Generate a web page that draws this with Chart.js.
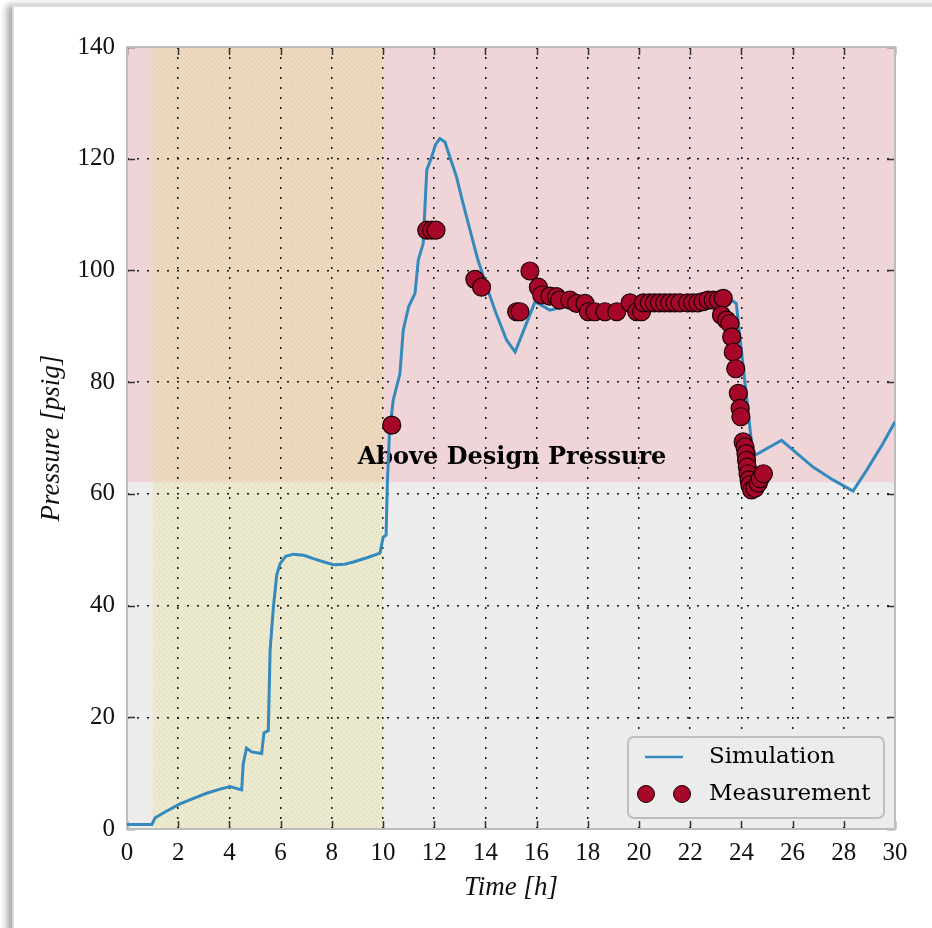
<!DOCTYPE html>
<html>
<head>
<meta charset="utf-8">
<script src="https://cdn.jsdelivr.net/npm/chart.js@4.4.1/dist/chart.umd.min.js"></script>
<style>
  html, body { margin: 0; padding: 0; background: #ffffff; }
  #frame {
    position: absolute; left: 12px; top: 5px; width: 930px; height: 940px;
    border: 2px solid #dcdcdc; box-shadow: -5px 0 7px rgba(0,0,0,0.35);
    background: #ffffff;
  }
  #wrap { position: absolute; left: 0; top: 0; width: 932px; height: 928px; }
</style>
</head>
<body>
<div id="frame"></div>
<div id="wrap"><canvas id="pressureChart" width="932" height="928"></canvas></div>
<script>
// simulated pressure curve
const simTime = [0, 0.97, 1.1, 1.5, 2.07, 2.6, 3.11, 3.6, 4.02, 4.48, 4.54, 4.67, 4.87, 5.26, 5.35, 5.52,
  5.59, 5.72, 5.85, 5.98, 6.2, 6.5, 6.9, 7.28, 7.7, 8.06, 8.5, 8.84, 9.4, 9.88, 10.01, 10.12, 10.17,
  10.25, 10.4, 10.66, 10.79, 11.0, 11.25, 11.38, 11.57, 11.71, 11.9, 12.05, 12.22, 12.42, 12.6, 12.87,
  13.1, 13.4, 13.7, 14.05, 14.4, 14.83, 15.16, 15.55, 15.94, 16.52, 17.04, 18, 19, 20, 21, 22, 23.0,
  23.6, 23.8, 24.0, 24.2, 24.4, 24.53, 25.57, 26.03, 26.8, 27.58, 28.36, 28.9, 29.5, 30];
const simPressure = [0.8, 0.8, 2.0, 3.1, 4.5, 5.5, 6.4, 7.1, 7.6, 7.0, 11.7, 14.5, 13.8, 13.5, 17.2, 17.6,
  32, 39.8, 45.5, 47.5, 48.8, 49.2, 49.0, 48.4, 47.8, 47.3, 47.4, 47.8, 48.6, 49.4, 52.3, 52.6, 61.9,
  70.8, 76.8, 81.5, 89.3, 93.5, 95.9, 101.9, 104.8, 118, 120.3, 122.5, 123.6, 123, 120.5, 116.8,
  112.5, 107.2, 102, 97.1, 92.5, 87.5, 85.4, 89.9, 94.4, 92.9, 93.5, 93.4, 93.6, 94, 94.2, 94.4, 94.6,
  94.7, 94.1, 85.7, 77.4, 69.0, 66.9, 69.6, 67.8, 64.8, 62.5, 60.5, 64.3, 68.8, 72.9];

// field measurements
const measTime = [10.34, 11.71, 11.9, 12.07, 13.59, 13.85, 15.22, 15.35, 15.74, 16.07, 16.2, 16.52, 16.78,
  16.9, 17.3, 17.56, 17.89, 18.02, 18.28, 18.67, 19.13, 19.65, 19.91, 20.1, 20.17, 20.4, 20.6, 20.8,
  21.0, 21.2, 21.4, 21.6, 21.9, 22.1, 22.3, 22.5, 22.7, 22.9, 23.1, 23.29, 23.22, 23.42, 23.55, 23.62,
  23.68, 23.78, 23.88, 23.95, 23.98, 24.07, 24.14, 24.18, 24.2, 24.23, 24.26, 24.3, 24.33, 24.4, 24.53,
  24.66, 24.73, 24.86];
const measPressure = [72.3, 107.2, 107.2, 107.2, 98.4, 97.0, 92.6, 92.6, 99.9, 97.0, 95.6, 95.4, 95.3,
  94.7, 94.7, 94.1, 94.1, 92.6, 92.6, 92.6, 92.6, 94.2, 92.6, 92.6, 94.2, 94.2, 94.2, 94.2,
  94.2, 94.2, 94.2, 94.2, 94.2, 94.2, 94.2, 94.4, 94.7, 94.7, 94.7, 95.0, 92.0, 91.1, 90.5, 88.1,
  85.4, 82.4, 78.0, 75.3, 73.8, 69.3, 68.4, 67.2, 66.0, 64.8, 63.6, 62.5, 61.6, 60.7, 61.0,
  61.9, 62.7, 63.6];

const designPressure = 62;
const shadedStart = 1;
const shadedEnd = 10;
const regionLabel = 'Above Design Pressure';
const labelPos = [15.04, 66.4];

const xTicks = [0, 2, 4, 6, 8, 10, 12, 14, 16, 18, 20, 22, 24, 26, 28, 30];
const yTicks = [0, 20, 40, 60, 80, 100, 120, 140];

const blue = '#348ABD';
const red = '#A60628';

// dotted hatch for the shaded span
function dotPattern(ctx) {
    const c = document.createElement('canvas');
    c.width = 5; c.height = 5;
    const p = c.getContext('2d');
    p.fillStyle = 'rgba(235,228,110,0.22)';
    p.fillRect(0, 0, 5, 5);
    p.fillStyle = 'rgba(175,160,90,0.22)';
    p.fillRect(1, 1, 1.3, 1.3);
    p.fillRect(3.5, 3.5, 1.3, 1.3);
    return ctx.createPattern(c, 'repeat');
}

const regions = {
    id: 'regions',
    beforeDraw(chart) {
        const { ctx, chartArea: a, scales: { x, y } } = chart;
        const yd = y.getPixelForValue(designPressure);
        ctx.save();
        ctx.fillStyle = '#efd5d8';
        ctx.fillRect(a.left, a.top, a.right - a.left, yd - a.top);
        ctx.fillStyle = '#ececec';
        ctx.fillRect(a.left, yd, a.right - a.left, a.bottom - yd);
        const x1 = x.getPixelForValue(shadedStart), x2 = x.getPixelForValue(shadedEnd);
        ctx.fillStyle = dotPattern(ctx);
        ctx.fillRect(x1, a.top, x2 - x1, a.bottom - a.top);
        ctx.restore();
    },
    beforeDatasetsDraw(chart) {
        const { ctx, chartArea: a, scales: { x, y } } = chart;
        ctx.save();
        // inner tick marks on all four sides
        ctx.strokeStyle = '#333';
        ctx.lineWidth = 1.5;
        ctx.beginPath();
        yTicks.forEach(v => {
            const py = Math.round(y.getPixelForValue(v)) + 0.5;
            ctx.moveTo(a.left, py); ctx.lineTo(a.left + 8, py);
            ctx.moveTo(a.right, py); ctx.lineTo(a.right - 8, py);
        });
        xTicks.forEach(v => {
            const px = Math.round(x.getPixelForValue(v)) + 0.5;
            ctx.moveTo(px, a.bottom); ctx.lineTo(px, a.bottom - 8);
            ctx.moveTo(px, a.top); ctx.lineTo(px, a.top + 8);
        });
        ctx.stroke();
        ctx.strokeStyle = '#bcbcbc';
        ctx.lineWidth = 2;
        ctx.strokeRect(a.left, a.top, a.right - a.left, a.bottom - a.top);
        // region label
        ctx.fillStyle = '#000';
        ctx.font = 'bold 24px "DejaVu Serif"';
        ctx.textAlign = 'center';
        ctx.textBaseline = 'middle';
        ctx.fillText(regionLabel, x.getPixelForValue(labelPos[0]), y.getPixelForValue(labelPos[1]));
        ctx.restore();
    },
    afterDraw(chart) {
        const { ctx, chartArea: a } = chart;
        const ds = chart.data.datasets;
        const bx = a.right - 267, by = a.bottom - 92, bw = 256, bh = 81;
        ctx.save();
        ctx.beginPath();
        ctx.roundRect(bx, by, bw, bh, 6);
        ctx.fillStyle = 'rgba(236,236,236,0.95)';
        ctx.fill();
        ctx.lineWidth = 2;
        ctx.strokeStyle = '#bdbdbd';
        ctx.stroke();
        const rowY = [by + 20, by + 57];
        ctx.strokeStyle = ds[0].borderColor;
        ctx.lineWidth = 2.5;
        ctx.beginPath();
        ctx.moveTo(bx + 17, rowY[0]); ctx.lineTo(bx + 55, rowY[0]);
        ctx.stroke();
        ctx.fillStyle = ds[1].backgroundColor;
        ctx.strokeStyle = '#1a0006';
        ctx.lineWidth = 1;
        [bx + 18, bx + 54].forEach(cx => {
            ctx.beginPath();
            ctx.arc(cx, rowY[1], 8.5, 0, Math.PI * 2);
            ctx.fill(); ctx.stroke();
        });
        ctx.fillStyle = '#000';
        ctx.font = '23px "DejaVu Serif"';
        ctx.textAlign = 'left';
        ctx.textBaseline = 'middle';
        ctx.fillText(ds[0].label, bx + 81, rowY[0]);
        ctx.fillText(ds[1].label, bx + 81, rowY[1]);
        ctx.restore();
    }
};

const tickFont = { family: '"Liberation Serif"', size: 25 };
const titleFont = { family: '"Liberation Serif"', size: 27, style: 'italic' };

new Chart(document.getElementById('pressureChart'), {
    type: 'scatter',
    data: {
        datasets: [{
            type: 'line',
            label: 'Simulation',
            data: simTime.map((t, i) => ({ x: t, y: simPressure[i] })),
            borderColor: blue,
            borderWidth: 3,
            pointRadius: 0,
            tension: 0,
            fill: false,
            order: 2
        }, {
            label: 'Measurement',
            data: measTime.map((t, i) => ({ x: t, y: measPressure[i] })),
            backgroundColor: red,
            borderColor: '#1a0006',
            borderWidth: 1.2,
            pointRadius: 9,
            order: 1
        }]
    },
    options: {
        responsive: false,
        animation: false,
        devicePixelRatio: 1,
        layout: { padding: { left: 0, top: 47, right: 37, bottom: 0 } },
        plugins: { legend: { display: false }, tooltip: { enabled: false } },
        scales: {
            x: {
                type: 'linear', min: 0, max: 30,
                afterBuildTicks: s => { s.ticks = xTicks.map(v => ({ value: v })); },
                afterFit: s => { s.height = 99; },
                grid: { color: 'rgba(10,10,10,0.95)', lineWidth: 1.5, drawTicks: false },
                border: { display: false, dash: [2, 8] },
                ticks: { font: tickFont, color: '#111', padding: 9, maxRotation: 0 },
                title: { display: true, text: 'Time [h]', font: titleFont, color: '#111', padding: { bottom: 24 } }
            },
            y: {
                type: 'linear', min: 0, max: 140,
                afterBuildTicks: s => { s.ticks = yTicks.map(v => ({ value: v })); },
                afterFit: s => { s.width = 127; },
                grid: { color: 'rgba(10,10,10,0.95)', lineWidth: 1.5, drawTicks: false },
                border: { display: false, dash: [2, 8] },
                ticks: { font: tickFont, color: '#111', padding: 12 },
                title: { display: true, text: 'Pressure [psig]', font: titleFont, color: '#111', padding: { top: 36 } }
            }
        }
    },
    plugins: [regions]
});
</script>
</body>
</html>
